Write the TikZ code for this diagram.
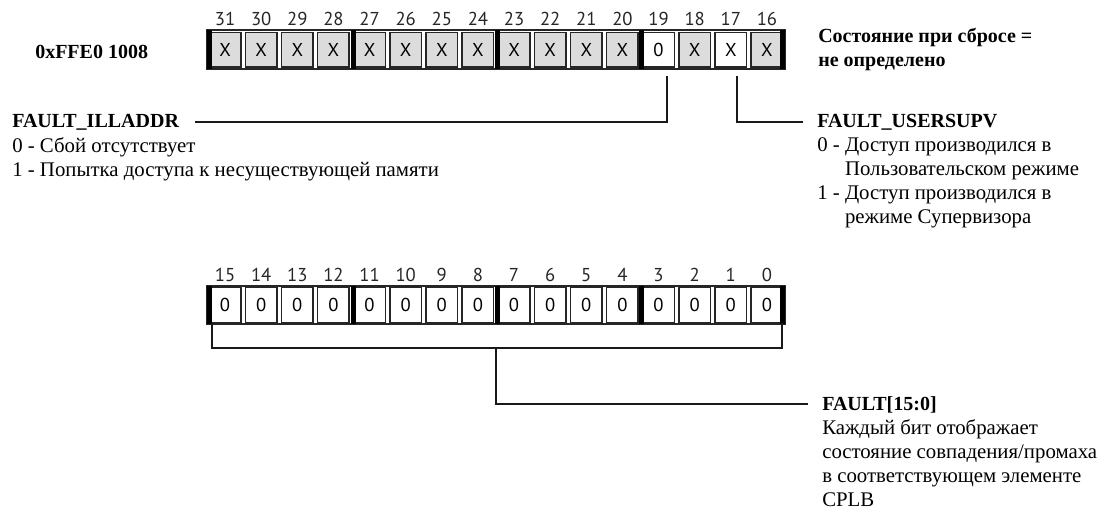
\documentclass[tikz,border=0pt]{standalone}
\usepackage{fontspec}
\setmainfont{Liberation Serif}
\newfontfamily\bitfont{PT Sans}
\usetikzlibrary{positioning,calc}
\definecolor{gris}{HTML}{DCDCDC}

\begin{document}
\begin{tikzpicture}[
  x=0.75pt,y=-0.75pt,
  cadre/.style={draw=black!85,line width=0.9pt},
  barre/.style={draw=black,line width=3.75pt},
  cellule/.style={draw=black!85,line width=1.1pt,minimum width=23.6pt,minimum height=25.9pt,inner sep=0pt,font=\bitfont\fontsize{14}{16}\selectfont},
  numero/.style={inner sep=0pt,font=\bitfont\fontsize{14}{16}\selectfont,text=black!85},
  titre/.style={inner sep=0pt,font=\fontsize{15}{18}\selectfont\bfseries,align=left},
  texte/.style={inner sep=0pt,font=\fontsize{15.6}{18}\selectfont,align=left},
  trait/.style={draw=black!90,line width=1.5pt}
]
\useasboundingbox (0,0) rectangle (1103,511);

% registre haut, bits 31..16
\draw[cadre] (207,30) rectangle (785,69);
\foreach \b [count=\k from 0] in {31,30,...,16}{
  \def\val{X}\def\fond{gris}
  \ifnum\b=19 \def\val{0}\def\fond{white}\fi
  \ifnum\b=17 \def\fond{white}\fi
  \node[cellule,fill=\fond] (h\b) at (225.06+36.125*\k,49.5) {\val};
  \node[numero] (nh\b) at (225.06+36.125*\k,19) {\b};
}
\foreach \x in {209.5,353,497,641,782.5}
  \draw[barre] (\x,30) -- (\x,69);

% registre bas, bits 15..0
\draw[cadre] (207,286) rectangle (785,324);
\foreach \b [count=\k from 0] in {15,14,...,0}{
  \node[cellule,fill=white] (l\b) at (225.06+36.125*\k,305) {0};
  \node[numero] (nl\b) at (225.06+36.125*\k,275) {\b};
}
\foreach \x in {209.5,353,497,641,782.5}
  \draw[barre] (\x,286) -- (\x,324);

% textes
\node[titre,anchor=base west] (adresse) at (35,58) {0xFFE0 1008};
\node[titre,anchor=north west] (reset) at (818,28)
  {Состояние при сбросе =\\не определено};

\node[titre,anchor=base west] (illaddr) at (12,127) {FAULT\_ILLADDR};
\node[texte,below right=5.5pt and 0pt of illaddr.south west] (illaddrtxt)
  {0 - Сбой отсутствует\\1 - Попытка доступа к несуществующей памяти};

\node[titre,anchor=base west] (usersupv) at (817,127) {FAULT\_USERSUPV};
\node[texte,below right=5.5pt and 0pt of usersupv.south west] (usersupvtxt)
  {0 - Доступ производился в\\\phantom{0 - }Пользовательском режиме\\
   1 - Доступ производился в\\\phantom{1 - }режиме Супервизора};

\node[titre,anchor=base west] (fault) at (822,410) {FAULT[15:0]};
\node[texte,below right=5pt and 0pt of fault.south west] (faulttxt)
  {Каждый бит отображает\\состояние совпадения/промаха\\
   в соответствующем элементе\\CPLB};

% liaisons
\draw[trait] ([xshift=6pt,yshift=-6pt]h19.south) |- ([xshift=12pt]illaddr.east);
\draw[trait] ([xshift=4.5pt,yshift=-6pt]h17.south) |- ([xshift=-10.5pt]usersupv.west);
\draw[trait] ([xshift=2.5pt]l15.south west) -- ++(0,25) -| ([xshift=-1pt]l0.south east);
\coordinate (accolade) at ($(l8.south east)!.5!(l7.south west)+(0,25)$);
\draw[trait] (accolade) |- ([xshift=-10.5pt]fault.west);
\end{tikzpicture}
\end{document}
